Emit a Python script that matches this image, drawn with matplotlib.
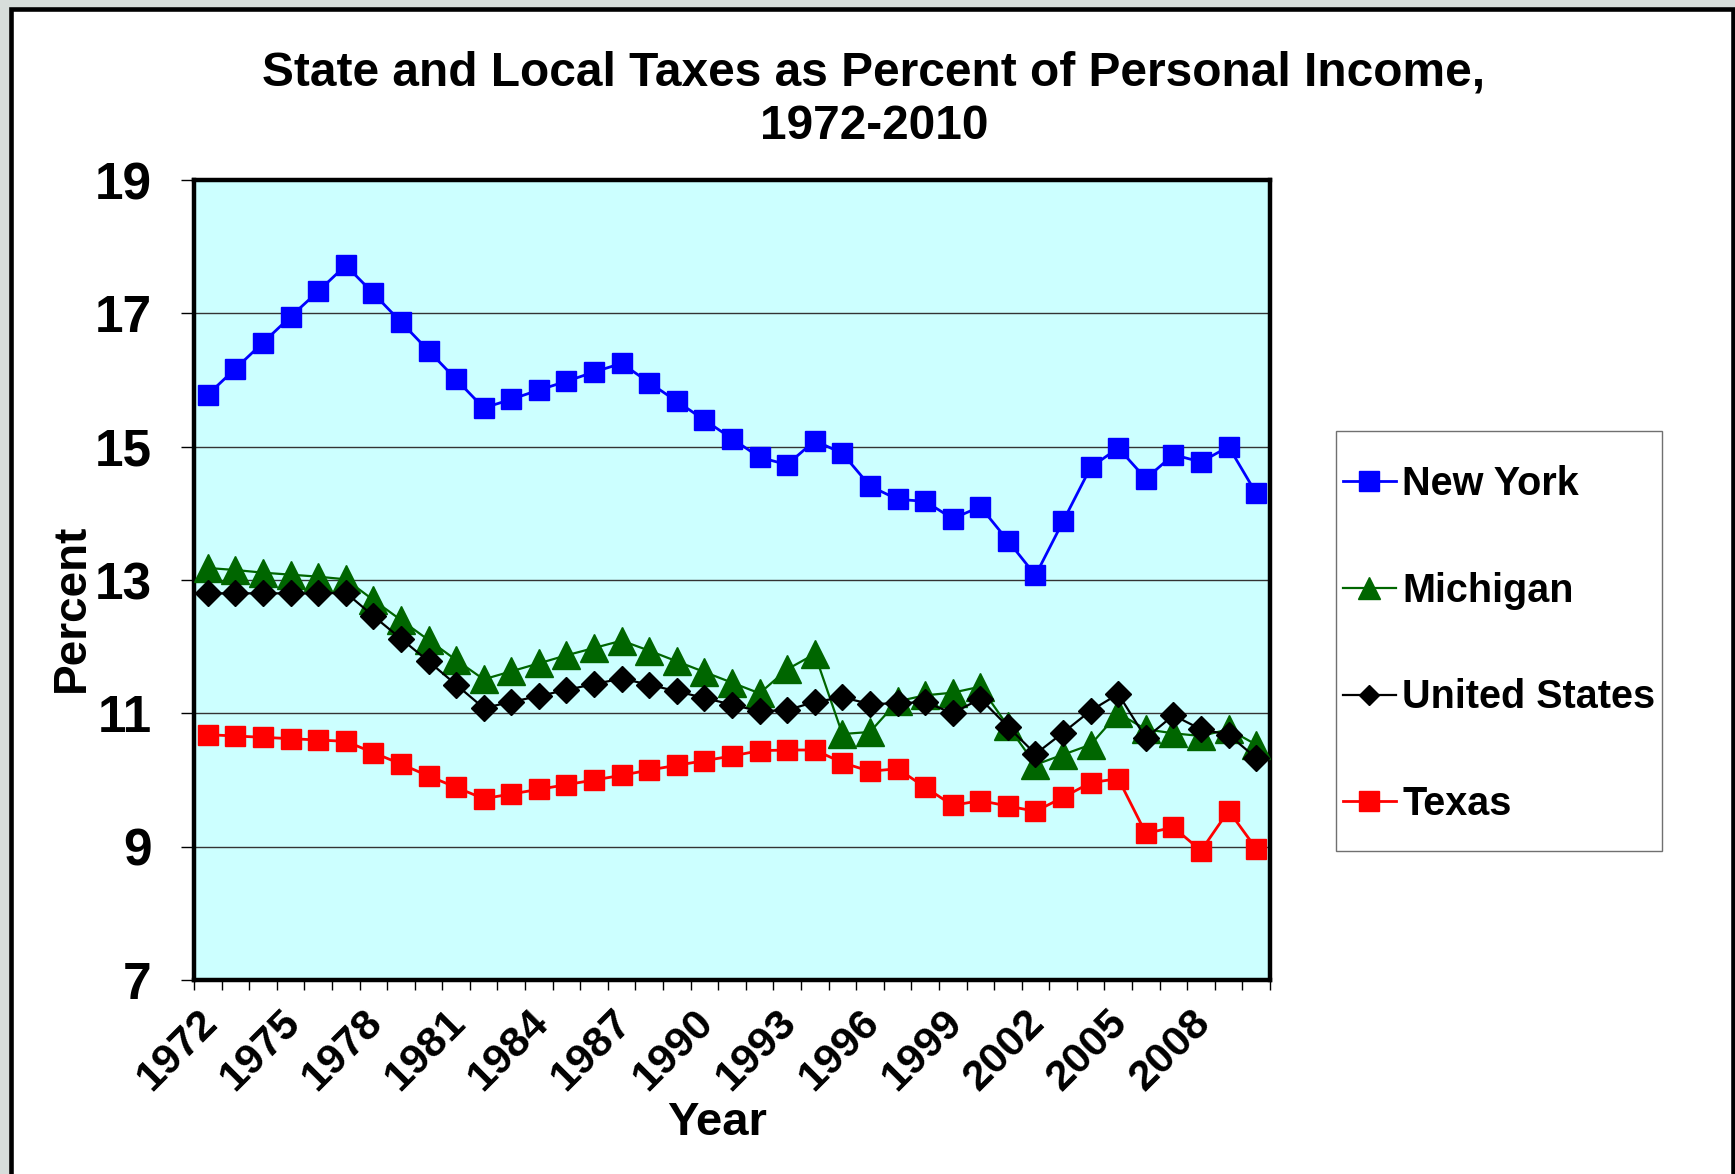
import matplotlib
matplotlib.use("Agg")
import matplotlib.pyplot as plt
from matplotlib.patches import Rectangle
import matplotlib.transforms as mtransforms

plt.rcParams['font.family'] = ['Liberation Sans', 'DejaVu Sans']
plt.rcParams['font.weight'] = 'bold'

# data
years = list(range(1972, 2011))
new_york = [15.78, 16.17, 16.56, 16.95, 17.33, 17.72, 17.30, 16.87, 16.44, 16.01,
            15.58, 15.71, 15.85, 15.98, 16.12, 16.25, 15.96, 15.68, 15.40, 15.12,
            14.84, 14.73, 15.09, 14.90, 14.41, 14.21, 14.18, 13.92, 14.10, 13.59,
            13.07, 13.88, 14.69, 14.98, 14.52, 14.88, 14.77, 15.00, 14.30]
michigan = [13.18, 13.15, 13.11, 13.08, 13.05, 13.01, 12.70, 12.40, 12.10, 11.80,
            11.51, 11.63, 11.75, 11.87, 11.98, 12.09, 11.94, 11.78, 11.62, 11.46,
            11.30, 11.66, 11.89, 10.69, 10.72, 11.18, 11.27, 11.31, 11.40, 10.81,
            10.23, 10.38, 10.53, 11.00, 10.76, 10.70, 10.66, 10.76, 10.53]
united_states = [12.80, 12.80, 12.80, 12.80, 12.80, 12.81, 12.46, 12.12, 11.78, 11.43,
                 11.08, 11.17, 11.26, 11.35, 11.44, 11.52, 11.43, 11.33, 11.23, 11.13,
                 11.03, 11.05, 11.17, 11.24, 11.14, 11.15, 11.17, 11.00, 11.22, 10.80,
                 10.39, 10.71, 11.04, 11.29, 10.63, 10.97, 10.76, 10.68, 10.33]
texas = [10.68, 10.66, 10.64, 10.62, 10.60, 10.58, 10.41, 10.24, 10.06, 9.89,
         9.72, 9.79, 9.86, 9.93, 10.00, 10.07, 10.15, 10.22, 10.29, 10.36,
         10.44, 10.45, 10.45, 10.26, 10.13, 10.17, 9.89, 9.62, 9.69, 9.61,
         9.53, 9.74, 9.96, 10.02, 9.20, 9.29, 8.94, 9.54, 8.97]
labeled_years = list(range(1972, 2010, 3))
y_ticks = [7, 9, 11, 13, 15, 17, 19]

W, H = 1735, 1174
fig = plt.figure(figsize=(W / 100, H / 100), dpi=100)
fig.patch.set_facecolor('#d7dddb')

# white slide area with black frame (bottom edge off canvas)
fig.add_artist(Rectangle((11 / W, -0.05), (1733 - 11) / W, 1.05 - 9 / H,
                         transform=fig.transFigure, facecolor='white',
                         edgecolor='black', linewidth=3.3, zorder=-10))

ax = fig.add_axes([194 / W, 1 - 980 / H, (1270 - 194) / W, (980 - 180) / H])
ax.set_facecolor('#ccffff')

ax.plot(years, new_york, color='#0000ff', lw=2, marker='s', ms=14.4,
        mec='#0000ff', label='New York', zorder=3)
ax.plot(years, michigan, color='#006600', lw=1.6, marker='^', ms=20,
        mec='#006600', label='Michigan', zorder=4)
ax.plot(years, united_states, color='black', lw=1.6, marker='D', ms=13.6,
        mec='black', label='United States', zorder=5)
ax.plot(years, texas, color='#ff0000', lw=2, marker='s', ms=14.4,
        mec='#ff0000', label='Texas', zorder=6)

ax.set_xlim(1971.5, 2010.5)
ax.set_ylim(7, 19)
ax.set_yticks(y_ticks)
ax.set_yticklabels([str(v) for v in y_ticks], fontsize=37, fontweight='bold')
ax.tick_params(axis='y', direction='out', length=9.5, width=1, pad=21)
for v in y_ticks[1:-1]:
    ax.axhline(v, color='#333333', lw=1, zorder=1)

ax.set_xticks(labeled_years)
ax.set_xticklabels([str(y) for y in labeled_years], fontsize=31, fontweight='bold',
                   rotation=45, ha='right', va='top', rotation_mode='anchor')
ax.tick_params(axis='x', which='major', length=0, pad=16)
ax.set_xticks([y - 0.5 for y in years] + [2010.5], minor=True)
ax.tick_params(axis='x', which='minor', direction='out', length=7, width=1)
shift = mtransforms.ScaledTranslation(-11 / 100, 0, fig.dpi_scale_trans)
for lab in ax.get_xticklabels():
    lab.set_transform(lab.get_transform() + shift)

for s in ax.spines.values():
    s.set_linewidth(3.2)
    s.set_color('black')

fig.text(874 / W, 1 - 100 / H, 'State and Local Taxes as Percent of Personal Income,\n1972-2010',
         ha='center', va='center', fontsize=34.5, fontweight='bold', linespacing=1.24)
fig.text(72 / W, 1 - 608 / H, 'Percent', rotation=90, ha='center', va='center',
         fontsize=33, fontweight='bold')
fig.text(717 / W, 1 - 1123 / H, 'Year', ha='center', va='center',
         fontsize=34, fontweight='bold')

# legend box
fig.add_artist(Rectangle((1336 / W, 1 - 851 / H), (1662 - 1336) / W, (851 - 431) / H,
                         transform=fig.transFigure, facecolor='white',
                         edgecolor='#707070', linewidth=1))
leg = fig.legend(loc='center', bbox_to_anchor=(1499 / W, 1 - 644 / H),
                 frameon=False, fontsize=28.5, handlelength=1.36, handletextpad=0.15,
                 labelspacing=1.74, borderpad=0)
for h, ms in zip(leg.legend_handles, [14.4, 16.5, 9.7, 14.4]):
    h.set_markersize(ms)
for t in leg.get_texts():
    t.set_fontweight('bold')

fig.savefig('out.png', dpi=100, facecolor=fig.get_facecolor())
